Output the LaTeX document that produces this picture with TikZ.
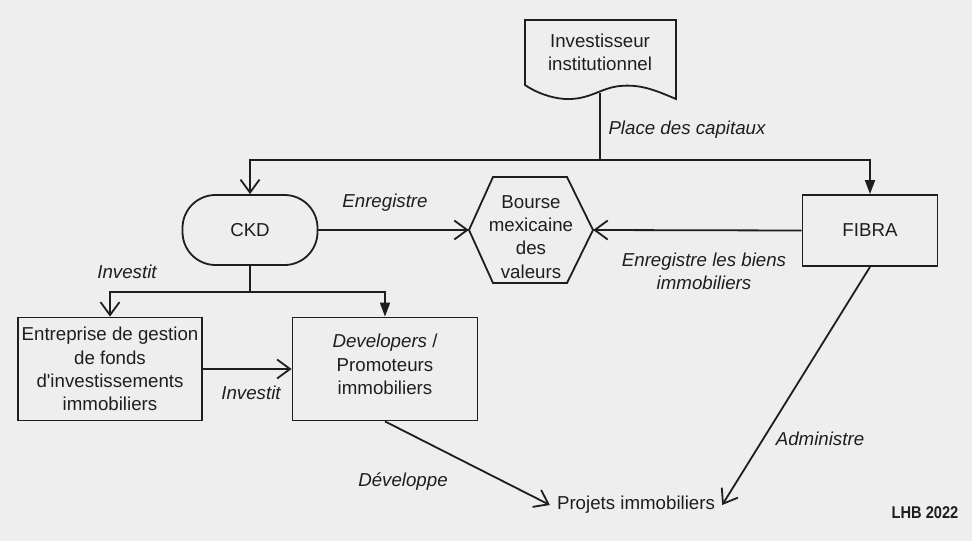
\documentclass[tikz,border=0pt]{standalone}
\usepackage{fontspec}
\setmainfont{Liberation Sans}
\newfontfamily\nomapfont{Liberation Sans}
\usetikzlibrary{arrows.meta}
\definecolor{bg}{HTML}{EEEEEE}
\definecolor{ink}{HTML}{1E1E1E}
\begin{document}
\begin{tikzpicture}[x=1pt,y=-1pt,
  every node/.style={font=\fontsize{18.7}{23.3}\selectfont, text=ink, align=center},
  box/.style={draw=ink, line width=1.8pt, inner sep=0pt},
  conn/.style={draw=ink, line width=1.8pt},
  lab/.style={font=\itshape\fontsize{18.7}{23.3}\selectfont},
  openarr/.style={-{Straight Barb[length=13pt,width=19pt,line width=1.8pt]}},
  fillarr/.style={-{Triangle[length=14pt,width=10pt]}}]
\fill[bg] (0,0) rectangle (972,541);
\useasboundingbox (0,0) rectangle (972,541);
% document shape
\draw[conn, line join=miter] (525,20) -- (676,20) -- (676,99)
  .. controls (655,90) and (640,84) .. (620,86)
  .. controls (600,88) and (590,100) .. (565,99)
  .. controls (550,98) and (535,92) .. (525,85) -- cycle;
\node (inv) at (600,52) {Investisseur\\institutionnel};
\coordinate (invb) at (600,93);
% nodes
\node[box, rounded corners=33pt, minimum width=135pt, minimum height=70pt] (ckd) at (250,230) {CKD};
\draw[conn, line join=miter] (469,230) -- (493,177) -- (567,177) -- (593,230) -- (567,283) -- (493,283) -- cycle;
\node[minimum width=124pt, minimum height=106pt, inner sep=0pt] (bmv) at (531,230) {};
\node (bmvt) at (531,237) {Bourse\\mexicaine\\des\\valeurs};
\node[box, minimum width=135pt, minimum height=71pt] (fibra) at (870,230.5) {FIBRA};
\node[box, minimum width=184pt, minimum height=103pt] (ent) at (110,369) {Entreprise de gestion\\de fonds\\d{\nomapfont '}investissements\\immobiliers};
\node[box, minimum width=185pt, minimum height=103pt, text depth=9pt] (dev) at (385,369) {\textit{Developers} /\\Promoteurs\\immobiliers};
\node[inner sep=7pt] (proj) at (636,505) {Projets immobiliers};
% connectors
\draw[conn] (invb) -- (600,160) coordinate (split1);
\draw[conn, openarr] (split1) -| (ckd.north);
\draw[conn, fillarr] (split1) -| (fibra.north);
\draw[conn, openarr] (ckd.east) -- (bmv.west);
\draw[conn, openarr] (fibra.west) -- (bmv.east);
\draw[conn] (ckd.south) -- (250,292) coordinate (split2);
\draw[conn, openarr] (split2) -| (ent.north);
\draw[conn, fillarr] (split2) -| (dev.north);
\draw[conn, openarr] (ent.east) -- (dev.west);
\draw[conn, openarr] (dev.south) -- (proj.west);
\draw[conn, openarr] (fibra.south) -- (proj.east);
% labels
\node[lab] (l1) at (687,130) {Place des capitaux};
\node[lab] (l2) at (385,203) {Enregistre};
\node[lab] (l3) at (704,271) {Enregistre les biens\\immobiliers};
\node[lab] (l4) at (127,272) {Investit};
\node[lab] (l5) at (251,393) {Investit};
\node[lab] (l6) at (403,482) {Développe};
\node[lab] (l7) at (820,439) {Administre};
\node[font=\bfseries\fontsize{17}{17}\selectfont, xscale=0.86] (lhb) at (925,513) {LHB 2022};
\end{tikzpicture}
\end{document}
